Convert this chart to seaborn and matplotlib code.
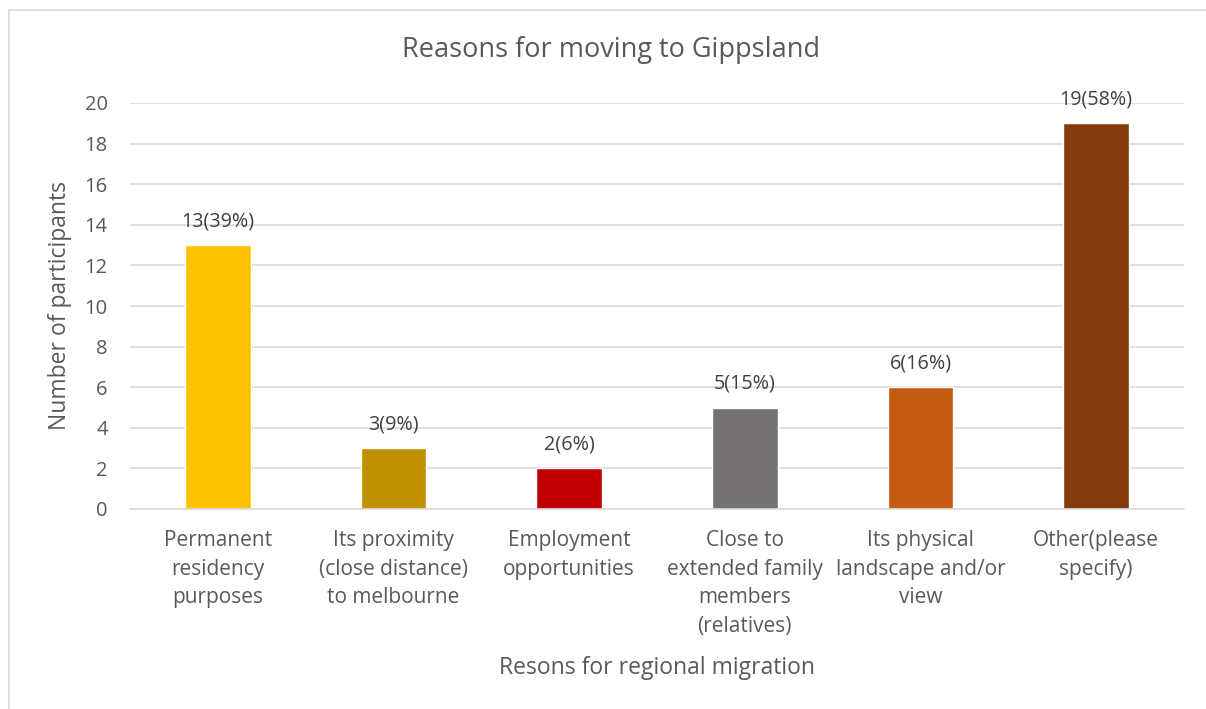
import matplotlib
matplotlib.use("Agg")
import matplotlib.pyplot as plt
import seaborn as sns
import pandas as pd
from matplotlib.patches import Rectangle

categories = ["Permanent\nresidency\npurposes",
              "Its proximity\n(close distance)\nto melbourne",
              "Employment\nopportunities",
              "Close to\nextended family\nmembers\n(relatives)",
              "Its physical\nlandscape and/or\nview",
              "Other(please\nspecify)"]
counts = [13, 3, 2, 5, 6, 19]
labels = ["13(39%)", "3(9%)", "2(6%)", "5(15%)", "6(16%)", "19(58%)"]
colors = ["#FFC000", "#BF9000", "#C00000", "#767171", "#C55A11", "#843C0C"]
yticks = [0, 2, 4, 6, 8, 10, 12, 14, 16, 18, 20]

sns.set_style("white")
plt.rcParams['font.family'] = ['Open Sans', 'DejaVu Sans']

df = pd.DataFrame({"cat": categories, "n": counts})

fig = plt.figure(figsize=(12.06, 7.09), dpi=100)
ax = fig.add_axes([130/1206, 1-509/709, (1184-130)/1206, (509-103)/709])

sns.barplot(data=df, x="cat", y="n", hue="cat", palette=colors, legend=False,
            width=0.375, ax=ax, saturation=1)

ax.set_ylim(0, 20)
ax.set_yticks(yticks)
ax.set_xlim(-0.5, len(categories) - 0.5)
ax.yaxis.grid(True, color="#D9D9D9", linewidth=1.2)
ax.set_axisbelow(True)
for s in ["top", "right", "left"]:
    ax.spines[s].set_visible(False)
ax.spines["bottom"].set_color("#D9D9D9")
ax.spines["bottom"].set_linewidth(1.2)
ax.tick_params(axis="both", length=0, colors="#595959")
ax.tick_params(axis="y", pad=16, labelsize=14.5)
ax.tick_params(axis="x", pad=15, labelsize=15)
for t in ax.get_xticklabels():
    t.set_fontsize(15)
    t.set_linespacing(1.48)
    t.set_color("#595959")

for i, (v, lab) in enumerate(zip(counts, labels)):
    ax.annotate(lab, (i, v), xytext=(0, 10), textcoords="offset points",
                ha="center", va="bottom", fontsize=14.2, color="#404040")

ax.set_xlabel("Resons for regional migration", fontsize=16.5, color="#595959", labelpad=14)
ax.set_ylabel("Number of participants", fontsize=16.5, color="#595959", labelpad=9)
fig.text(611/1206, 1-50/709, "Reasons for moving to Gippsland", ha="center", va="center",
         fontsize=19.5, color="#595959")

fig.patches.append(Rectangle((9/1206, -0.1), 1.2, 1 - 10/709 + 0.1, transform=fig.transFigure,
                             fill=False, edgecolor="#D9D9D9", linewidth=1.2))

fig.savefig("out.png", dpi=100)
